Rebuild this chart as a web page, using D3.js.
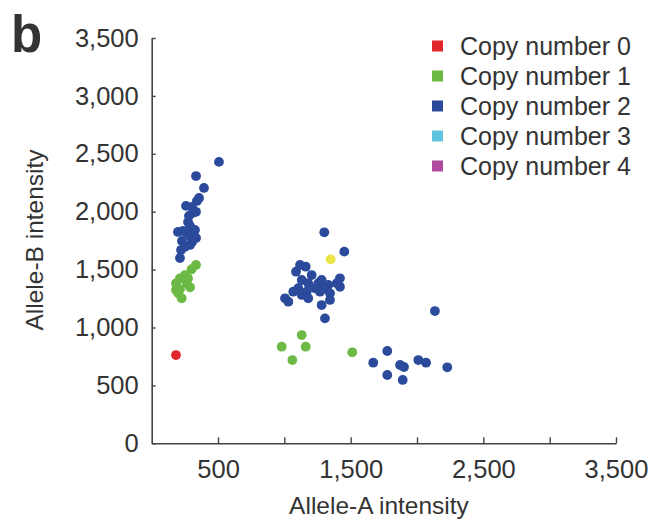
<!DOCTYPE html>
<html>
<head>
<meta charset="utf-8">
<script src="https://cdn.jsdelivr.net/npm/d3@7"></script>
<style>
  html, body { margin: 0; padding: 0; background: #fff; }
  svg { display: block; }
  text { font-family: "Liberation Sans", Arial, Helvetica, sans-serif; fill: #333; }
</style>
</head>
<body>
<svg id="chart" width="653" height="524"></svg>
<script>
// ---- data ----
const categories = ["Copy number 0", "Copy number 1", "Copy number 2", "Copy number 3", "Copy number 4"];
const categoryColors = ["#e3262b", "#6cb945", "#2b4a9c", "#62c3dc", "#b04a9e"];

// [Allele-A intensity, Allele-B intensity]
const copy0 = [[183, 762]];
const copy1 = [
  [334, 1540], [301, 1503], [251, 1453], [213, 1425], [274, 1425], [183, 1382], [264, 1382],
  [289, 1347], [213, 1330], [183, 1324], [200, 1295], [226, 1252],
  [1131, 935], [980, 834], [1161, 834], [1060, 719], [1512, 786]
];
const copy2 = [
  // left cluster
  [507, 2430], [334, 2308], [394, 2205], [357, 2119], [341, 2093], [259, 2050], [304, 2041],
  [311, 1990], [281, 1964], [334, 1999], [274, 1911], [289, 1877], [236, 1834], [198, 1825],
  [266, 1816], [326, 1842], [289, 1790], [334, 1773], [228, 1747], [304, 1739], [251, 1696],
  [289, 1713], [221, 1669], [213, 1600],
  // middle cluster
  [1301, 1822], [1452, 1655], [1118, 1540], [1161, 1525], [1088, 1482], [1206, 1453],
  [1131, 1410], [1281, 1410], [1419, 1425], [1180, 1382], [1256, 1382], [1331, 1367],
  [1395, 1382], [1105, 1339], [1067, 1309], [1231, 1339], [1306, 1339], [1419, 1352],
  [1168, 1309], [1269, 1309], [1344, 1295], [1131, 1281], [1005, 1252], [1030, 1223],
  [1180, 1252], [1344, 1238], [1281, 1194], [1306, 1079],
  // right cluster
  [2135, 1142], [1776, 797], [1670, 696], [1872, 676], [1902, 659], [2010, 719],
  [2068, 696], [2228, 656], [1776, 590], [1892, 547]
];
const noCall = [[1349, 1589]];
const noCallColor = "#ece545";

const xTicks = [500, 1000, 1500, 2000, 2500, 3000, 3500];
const xTickLabels = [500, 1500, 2500, 3500];
const yTicks = [0, 500, 1000, 1500, 2000, 2500, 3000, 3500];

// ---- chart ----
const svg = d3.select("#chart");
const x = d3.scaleLinear().domain([0, 3500]).range([151.7, 616]);
const y = d3.scaleLinear().domain([0, 3500]).range([443.3, 38]);
const fmt = d3.format(",");

const yAxis = svg.append("g").attr("transform", `translate(${x(0)},0)`)
  .call(d3.axisLeft(y).tickValues(yTicks).tickSizeInner(-4).tickSizeOuter(0)
    .tickPadding(13).tickFormat(fmt));
const xAxis = svg.append("g").attr("transform", `translate(0,${y(0)})`)
  .call(d3.axisBottom(x).tickValues(xTicks).tickSizeInner(-6).tickSizeOuter(0)
    .tickPadding(17).tickFormat(d => xTickLabels.includes(d) ? fmt(d) : ""));

[yAxis, xAxis].forEach(g => {
  g.selectAll("path.domain").attr("stroke", "#444").attr("stroke-width", 1.6);
  g.selectAll(".tick line").attr("stroke", "#444").attr("stroke-width", 1.4);
  g.selectAll(".tick text").attr("font-size", 25.5).attr("fill", "#333")
    .attr("font-family", "'Liberation Sans', Arial, Helvetica, sans-serif");
});

// axis titles
svg.append("text").attr("x", 379).attr("y", 514).attr("text-anchor", "middle")
  .attr("font-size", 24.5).text("Allele-A intensity");
svg.append("text").attr("transform", "translate(43,240) rotate(-90)")
  .attr("text-anchor", "middle").attr("font-size", 24.5).text("Allele-B intensity");

// panel letter
svg.append("text").attr("x", 11).attr("y", 52).attr("font-size", 51)
  .attr("font-weight", "bold").attr("fill", "#111").text("b");

// points
const seriesList = [
  { data: noCall, color: noCallColor },
  { data: copy1, color: categoryColors[1] },
  { data: copy2, color: categoryColors[2] },
  { data: copy0, color: categoryColors[0] }
];
seriesList.forEach(s => {
  svg.append("g").selectAll("circle").data(s.data).join("circle")
    .attr("cx", d => x(d[0])).attr("cy", d => y(d[1])).attr("r", 4.9)
    .attr("fill", s.color);
});

// legend
const legend = svg.append("g");
categories.forEach((c, i) => {
  const cy = 46 + i * 30;
  legend.append("rect").attr("x", 432).attr("y", cy - 5.5).attr("width", 11).attr("height", 11)
    .attr("fill", categoryColors[i]);
  legend.append("text").attr("x", 460).attr("y", cy).attr("dy", "0.36em")
    .attr("font-size", 25).text(c);
});
</script>
</body>
</html>
